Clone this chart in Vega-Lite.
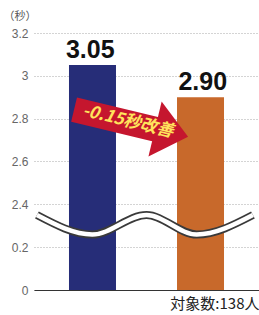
{
  "$schema": "https://vega.github.io/schema/vega-lite/v6.json",
  "width": 225,
  "height": 257,
  "autosize": {"type": "none"},
  "padding": {"left": 34, "top": 33, "right": 0, "bottom": 25},
  "background": "white",
  "config": {"view": {"stroke": null}},
  "datasets": {
    "bars": [
      {"cat": "A", "y": 3.05, "label": "3.05"},
      {"cat": "B", "y": 2.90, "label": "2.90"}
    ],
    "wave": [
      {"xq": 0.013, "y": 1.85},
      {"xq": 0.259, "y": 0.85},
      {"xq": 0.5, "y": 1.85},
      {"xq": 0.723, "y": 0.85},
      {"xq": 0.973, "y": 1.85}
    ],
    "arrow": [
      {"x1": 0.178, "x2": 0.547, "y": 2.842, "y2": 2.749}
    ],
    "head": [
      {"xq": 0.538, "y": 2.752}
    ],
    "note": [
      {"xq": 0.418, "y": 2.787, "text": "-0.15秒改善"}
    ]
  },
  "encoding": {
    "y": {
      "field": "y",
      "type": "quantitative",
      "scale": {"domain": [0, 0.2, 2.4, 3.2], "range": [257, 214.17, 171.33, 0], "nice": false, "zero": false},
      "axis": {
        "values": [0, 0.2, 2.4, 2.6, 2.8, 3, 3.2],
        "format": "~g",
        "domain": false,
        "ticks": false,
        "labelPadding": 6,
        "labelFont": "Liberation Sans",
        "labelFontSize": 12,
        "labelColor": "#666666",
        "grid": true,
        "gridColor": "#a8a8a8",
        "gridDash": [1, 2],
        "gridWidth": 1,
        "title": "（秒）",
        "titleAngle": 0,
        "titleX": -31,
        "titleY": -17,
        "titleAlign": "left",
        "titleBaseline": "middle",
        "titleFont": "Noto Sans CJK JP",
        "titleFontSize": 11,
        "titleFontWeight": "normal",
        "titleColor": "#555555"
      }
    }
  },
  "layer": [
    {
      "data": {"name": "bars"},
      "mark": {"type": "bar", "width": 47},
      "encoding": {
        "x": {
          "field": "cat",
          "type": "nominal",
          "scale": {"paddingInner": 0.565, "paddingOuter": 0.324},
          "axis": {
            "labels": false,
            "ticks": false,
            "domain": true,
            "domainColor": "#333333",
            "domainWidth": 1,
            "title": "対象数:138人",
            "titleAnchor": "end",
            "titleAlign": "right",
            "titlePadding": 6,
            "titleFont": "Noto Sans CJK JP",
            "titleFontSize": 15,
            "titleFontWeight": "normal",
            "titleColor": "#222222"
          }
        },
        "color": {"field": "cat", "type": "nominal", "scale": {"range": ["#262d78", "#c8692b"]}, "legend": null}
      }
    },
    {
      "data": {"name": "bars"},
      "mark": {"type": "text", "baseline": "alphabetic", "dy": -7, "font": "Liberation Sans", "fontSize": 25, "fontWeight": "bold", "color": "#111111"},
      "encoding": {
        "x": {"field": "cat", "type": "nominal", "scale": {"paddingInner": 0.565, "paddingOuter": 0.324}, "axis": null},
        "text": {"field": "label"}
      }
    },
    {
      "data": {"name": "wave"},
      "mark": {"type": "line", "interpolate": "monotone", "stroke": "#3a3a3a", "strokeWidth": 8},
      "encoding": {
        "x": {"field": "xq", "type": "quantitative", "scale": {"domain": [0, 1], "nice": false, "zero": false}, "axis": null}
      }
    },
    {
      "data": {"name": "wave"},
      "mark": {"type": "line", "interpolate": "monotone", "stroke": "white", "strokeWidth": 4.5},
      "encoding": {
        "x": {"field": "xq", "type": "quantitative", "scale": {"domain": [0, 1], "nice": false, "zero": false}, "axis": null}
      }
    },
    {
      "data": {"name": "arrow"},
      "mark": {"type": "rule", "strokeWidth": 25, "color": "#c5162e", "strokeCap": "butt"},
      "encoding": {
        "x": {"field": "x1", "type": "quantitative", "scale": {"domain": [0, 1], "nice": false, "zero": false}, "axis": null},
        "x2": {"field": "x2"},
        "y2": {"field": "y2"}
      }
    },
    {
      "data": {"name": "head"},
      "mark": {"type": "point", "shape": "M0,-1L1.2,0L0,1Z", "filled": true, "size": 3204, "angle": 13.5, "color": "#c5162e", "opacity": 1, "strokeWidth": 0},
      "encoding": {
        "x": {"field": "xq", "type": "quantitative", "scale": {"domain": [0, 1], "nice": false, "zero": false}, "axis": null}
      }
    },
    {
      "data": {"name": "note"},
      "mark": {"type": "text", "angle": 13.5, "align": "center", "baseline": "middle", "font": "Noto Sans CJK JP", "fontSize": 17, "fontWeight": "bold", "fontStyle": "italic", "color": "#ffe45c"},
      "encoding": {
        "x": {"field": "xq", "type": "quantitative", "scale": {"domain": [0, 1], "nice": false, "zero": false}, "axis": null},
        "text": {"field": "text"}
      }
    }
  ],
  "resolve": {"scale": {"x": "independent", "color": "independent"}}
}
